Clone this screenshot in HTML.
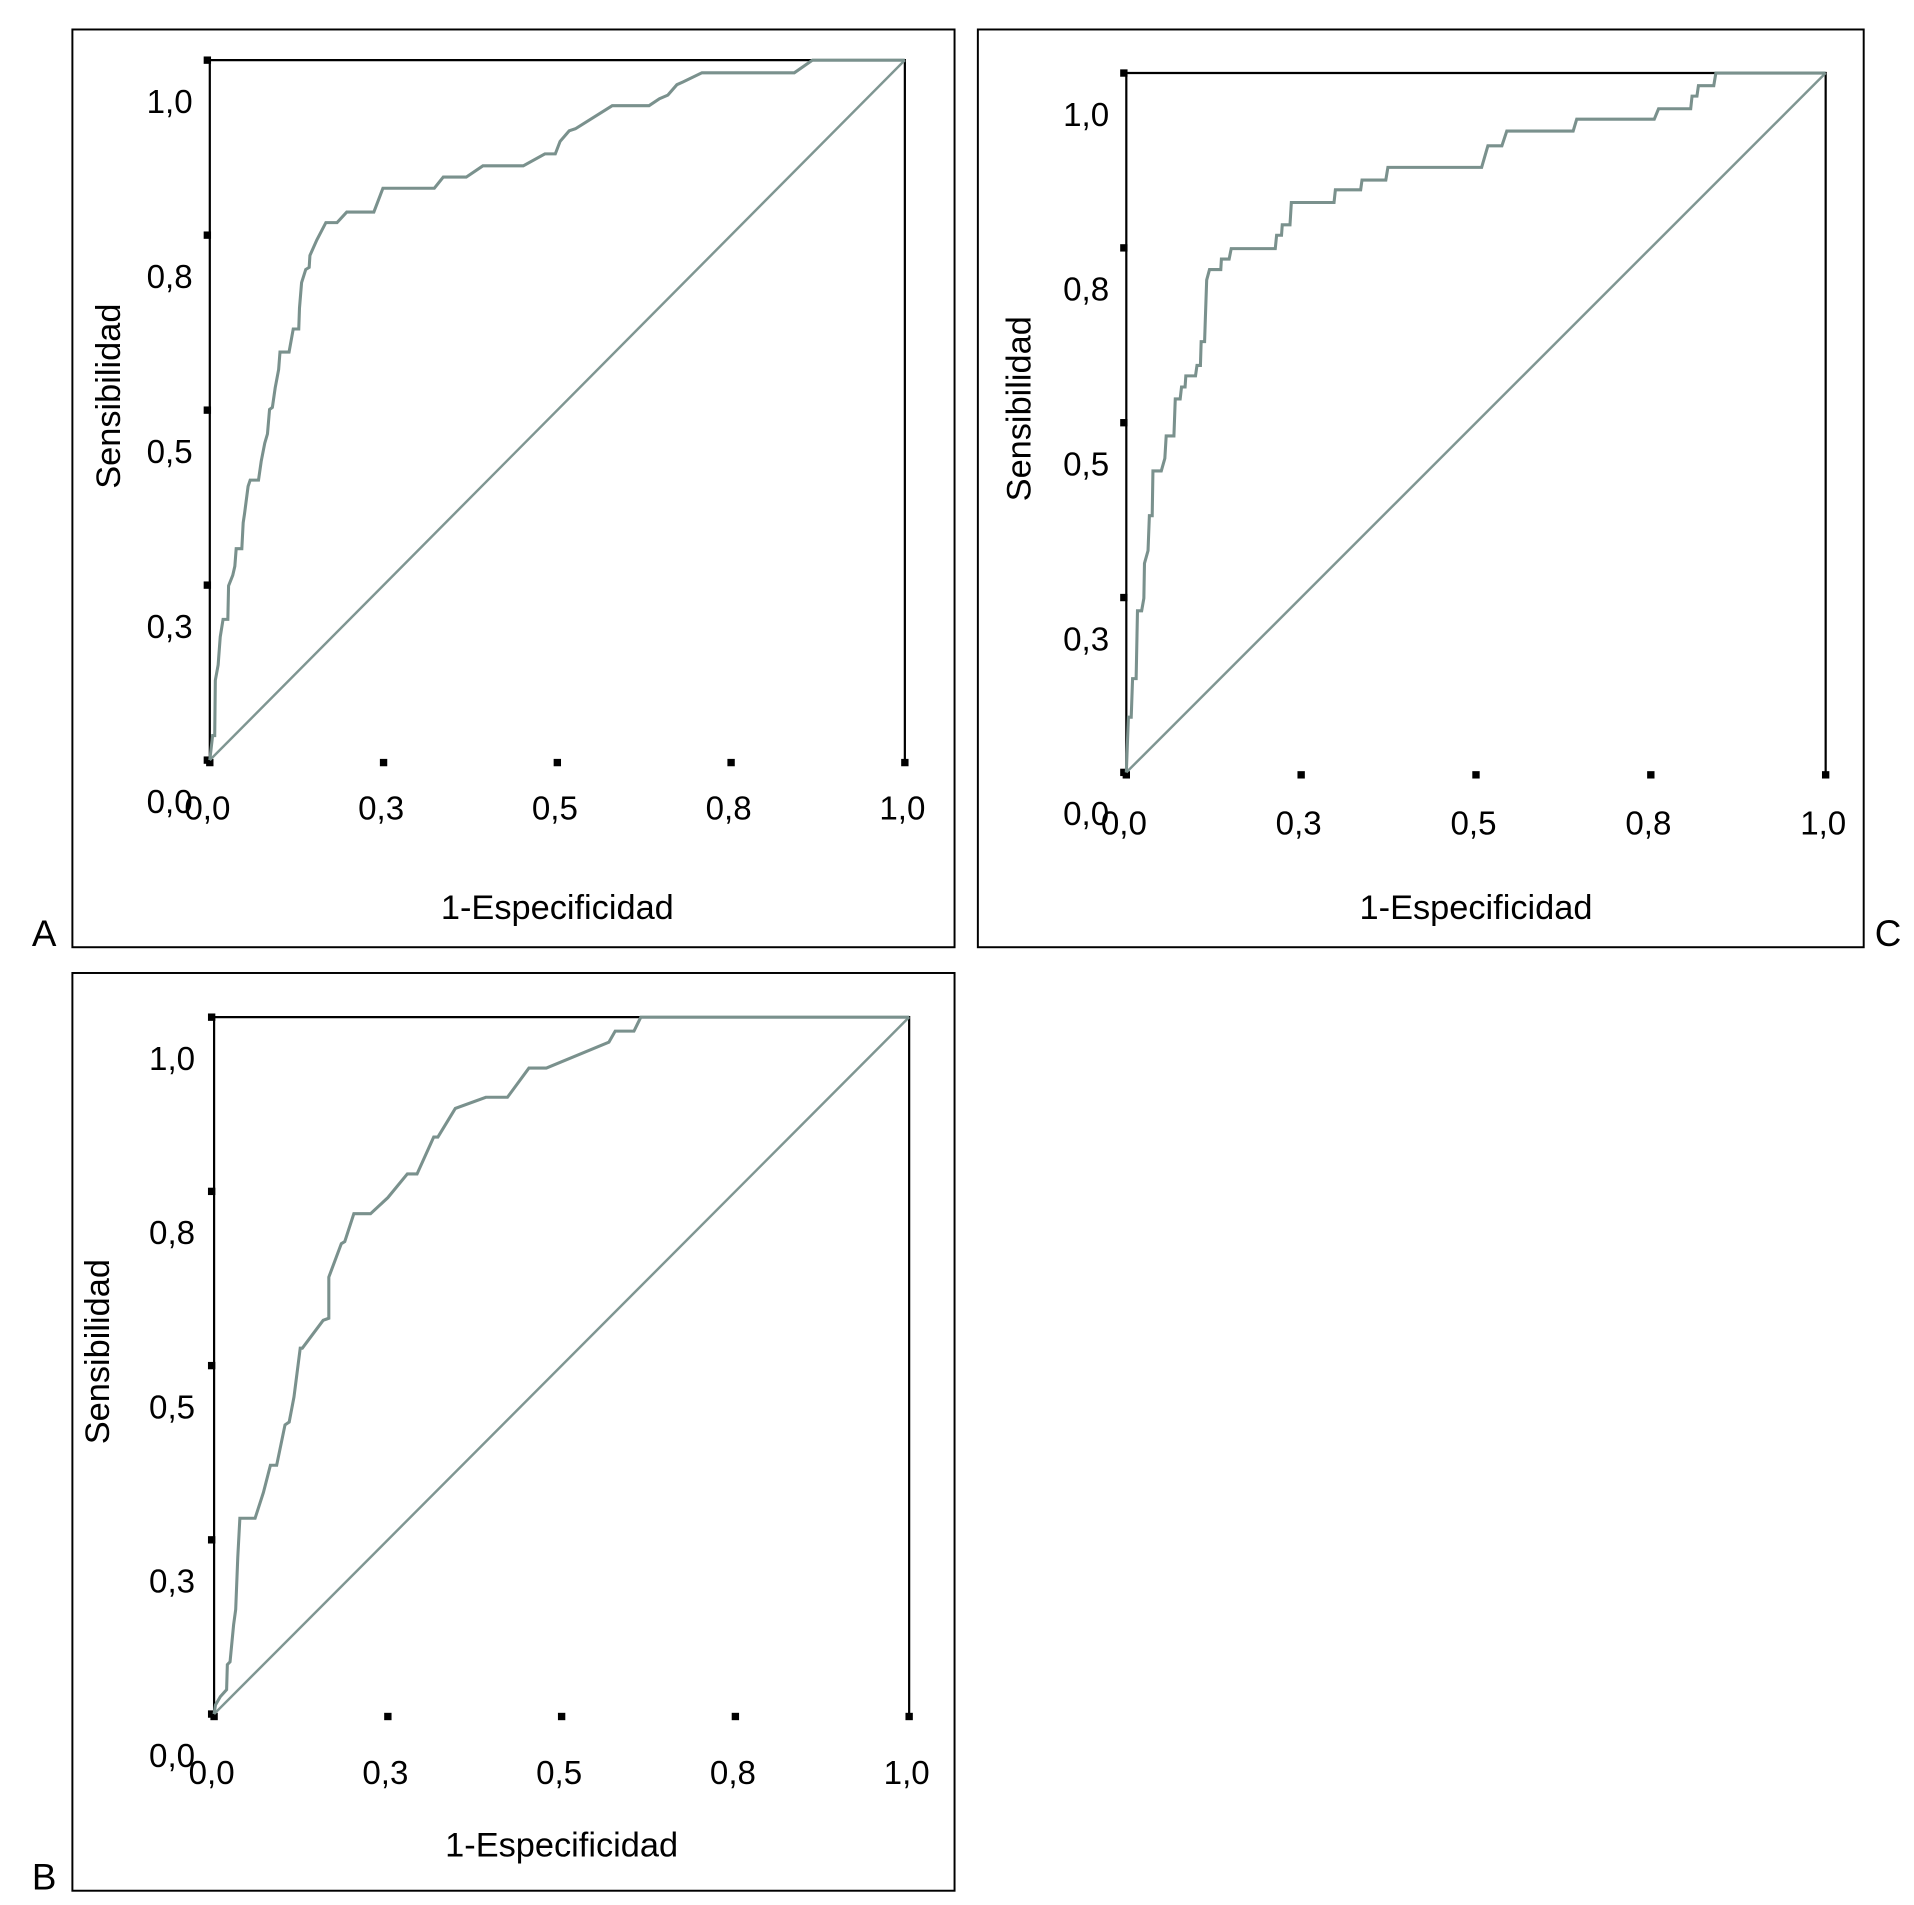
<!DOCTYPE html>
<html><head><meta charset="utf-8"><style>
html,body{margin:0;padding:0;background:#fff}
svg{display:block}
text{font-family:"Liberation Sans",Arial,sans-serif;fill:#000}
</style></head><body>
<svg id="fig" width="1914" height="1905" viewBox="0 0 1560 1552.6" xmlns="http://www.w3.org/2000/svg"></svg>
<script>
const tickLabels = ["0,0","0,3","0,5","0,8","1,0"];
const tickValues = [0,0.25,0.5,0.75,1];
const rocAx = [0,.004,.007,.008,.012,.015,.019,.026,.027,.033,.036,.038,.046,.048,.050,.055,.058,.070,.074,.079,.083,.086,.090,.094,.099,.101,.114,.120,.128,.129,.132,.138,.143,.144,.154,.167,.183,.197,.236,.249,.323,.336,.369,.393,.451,.482,.497,.504,.517,.526,.579,.632,.647,.659,.672,.681,.708,.841,.867,1];
const rocAy = [0,.035,.035,.114,.136,.176,.201,.201,.249,.264,.277,.302,.302,.339,.352,.391,.400,.400,.427,.453,.466,.501,.504,.532,.558,.583,.583,.616,.616,.646,.682,.701,.704,.721,.743,.768,.768,.783,.783,.817,.817,.833,.833,.849,.849,.866,.866,.884,.899,.902,.935,.935,.945,.950,.965,.969,.982,.982,1,1];
const rocBx = [0,.002,.009,.018,.019,.023,.028,.031,.034,.037,.059,.071,.081,.090,.102,.108,.115,.124,.127,.157,.165,.165,.183,.188,.201,.225,.250,.278,.292,.316,.322,.347,.391,.422,.453,.478,.568,.577,.604,.614,1];
const rocBy = [0,.013,.025,.035,.071,.075,.128,.150,.225,.281,.281,.318,.357,.357,.415,.419,.455,.525,.525,.565,.568,.627,.675,.678,.718,.718,.741,.775,.775,.828,.828,.869,.885,.885,.927,.927,.964,.980,.980,1,1];
const rocCx = [0,.003,.007,.009,.014,.016,.022,.025,.026,.031,.033,.037,.038,.050,.055,.057,.068,.070,.077,.079,.084,.085,.099,.101,.106,.107,.112,.113,.115,.119,.135,.136,.147,.150,.213,.215,.222,.223,.234,.236,.297,.299,.335,.337,.371,.374,.508,.517,.537,.544,.639,.644,.755,.761,.807,.809,.816,.818,.840,.843,1];
const rocCy = [0,.079,.079,.134,.134,.231,.231,.249,.299,.317,.367,.367,.431,.431,.449,.481,.481,.534,.534,.551,.551,.567,.567,.582,.582,.616,.616,.648,.704,.719,.719,.734,.734,.749,.749,.768,.768,.783,.783,.815,.815,.833,.833,.847,.847,.865,.865,.896,.896,.917,.917,.934,.934,.949,.949,.967,.967,.982,.982,1,1];

const NS="http://www.w3.org/2000/svg";
const svg=document.getElementById('fig');
function mk(tag,attrs,parent){const e=document.createElementNS(NS,tag);for(const k in attrs)e.setAttribute(k,attrs[k]);(parent||svg).appendChild(e);return e;}

function panel(id,box,pl,xs,ys,letter,letterPos,yTitleX,xTitleY,yLabX,xLabY){
  const g=mk('g',{});
  
  
  const frame=mk('rect',{x:box[0],y:box[1],width:box[2]-box[0],height:box[3]-box[1],fill:'none',stroke:'#000','stroke-width':1.6},g);
  
  
  const [x0,y0,x1,y1]=pl;
  const sx=v=>x0+v*(x1-x0), sy=v=>y1-v*(y1-y0);
  const ax=mk('path',{d:`M${x0},${y1} L${x0},${y0} L${x1},${y0} L${x1},${y1}`,fill:'none',stroke:'#000','stroke-width':1.8},g);
  
  
  tickValues.forEach((v,i)=>{
    const tx=mk('rect',{x:sx(v)-3,y:y1-1,width:6,height:6,fill:'#000'},g);
    
    
    const ty=mk('rect',{x:x0-5,y:sy(v)-3,width:6,height:6,fill:'#000'},g);
    
    
    const lx=mk('text',{x:sx(v)-2,y:xLabY,'font-size':27,'text-anchor':'middle'},g);
    lx.textContent=tickLabels[i];
    
    
    const ly=mk('text',{x:yLabX,y:sy(v)+43,'font-size':27,'text-anchor':'end'},g);
    ly.textContent=tickLabels[i];
    
    
  });
  const diag=mk('line',{x1:sx(0),y1:sy(0),x2:sx(1),y2:sy(1),stroke:'#7f9692','stroke-width':2},g);
  
  
  const pts=xs.map((v,i)=>sx(v).toFixed(1)+','+sy(ys[i]).toFixed(1)).join(' ');
  const c=mk('polyline',{points:pts,fill:'none',stroke:'#7a918d','stroke-width':2.5},g);
  
  
  const xt=mk('text',{x:(x0+x1)/2,y:xTitleY,'font-size':28,'text-anchor':'middle'},g);
  xt.textContent='1-Especificidad';
  
  
  const yc=(y0+y1)/2-(y1-y0)*0.02;
  const yt=mk('text',{x:yTitleX,y:yc,'font-size':28,'text-anchor':'middle',transform:`rotate(-90 ${yTitleX} ${yc})`},g);
  yt.textContent='Sensibilidad';
  
  
  const L=mk('text',{x:letterPos[0],y:letterPos[1],'font-size':30},g);
  L.textContent=letter;
  
  
}
panel('a',[59,24,778,772],[171,49,737.5,619.5],rocAx,rocAy,'A',[26,771],98,749,157,668);
panel('c',[797,24,1519,772],[918,59.5,1488,629.5],rocCx,rocCy,'C',[1528,771],840,749,904,680);
panel('b',[59,793,778,1541],[174.5,829,741,1397],rocBx,rocBy,'B',[26,1540],89,1513,159,1454);
</script>
</body></html>
